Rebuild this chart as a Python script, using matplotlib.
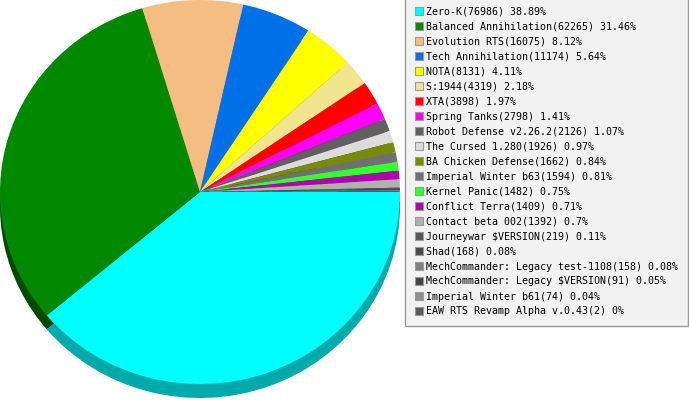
import matplotlib.pyplot as plt
from matplotlib.patches import Rectangle
from matplotlib.colors import to_rgb

names = ["Zero-K", "Balanced Annihilation", "Evolution RTS", "Tech Annihilation",
         "NOTA", "S:1944", "XTA", "Spring Tanks", "Robot Defense v2.26.2",
         "The Cursed 1.280", "BA Chicken Defense", "Imperial Winter b63",
         "Kernel Panic", "Conflict Terra", "Contact beta 002",
         "Journeywar $VERSION", "Shad", "MechCommander: Legacy test-1108",
         "MechCommander: Legacy $VERSION", "Imperial Winter b61",
         "EAW RTS Revamp Alpha v.0.43"]
values = [76986, 62265, 16075, 11174, 8131, 4319, 3898, 2798, 2126, 1926,
          1662, 1594, 1482, 1409, 1392, 219, 168, 158, 91, 74, 2]
colors = ["#00FFFF", "#008800", "#F5BD82", "#0070E8", "#FFFF00", "#F0E48E",
          "#FF0000", "#FF00FF", "#606060", "#DCDCDC", "#788C00", "#707070",
          "#33FF33", "#B000B0", "#B0B0B0", "#555555", "#4A4A4A", "#808080",
          "#444444", "#909090", "#5A5A5A"]

total = sum(values)
labels = [f"{n}({v}) {round(v / total * 100, 2):g}%" for n, v in zip(names, values)]

# darker copies for the "3d" side of the pie
shadow = [tuple(c * 0.6 for c in to_rgb(col)) for col in colors]
shadow[0] = "#00AAAA"
shadow[1] = "#004A00"

fig = plt.figure(figsize=(6.89, 4.0), dpi=100)
ax = fig.add_axes([0, 0, 400 / 689, 1])

ax.pie(values, colors=shadow, startangle=0, counterclock=False,
       center=(0, -14 / 192), radius=1, wedgeprops=dict(linewidth=0))
wedges, _ = ax.pie(values, colors=colors, startangle=0, counterclock=False,
                   center=(0, 0), radius=1, wedgeprops=dict(linewidth=0))
ax.set_aspect("auto")
ax.set_xlim(-1, 1)
ax.set_ylim(-208 / 192, 1.0)
ax.axis("off")

handles = [Rectangle((0, 0), 1, 1, facecolor=c, edgecolor="#999999", linewidth=0.8)
           for c in colors]
leg = fig.legend(handles, labels, loc="upper left",
                 bbox_to_anchor=(405 / 689, 1 - 1 / 400, 283 / 689, 0.01),
                 mode="expand", prop=dict(family="DejaVu Sans Mono", size=7.2),
                 handlelength=0.8, handleheight=0.8, handletextpad=0.4,
                 labelspacing=0.5, borderpad=0.95, borderaxespad=0,
                 fancybox=False, framealpha=1, facecolor="#F2F2F2",
                 edgecolor="#999999")
leg.get_frame().set_linewidth(1)

fig.savefig("out.png", dpi=100)
